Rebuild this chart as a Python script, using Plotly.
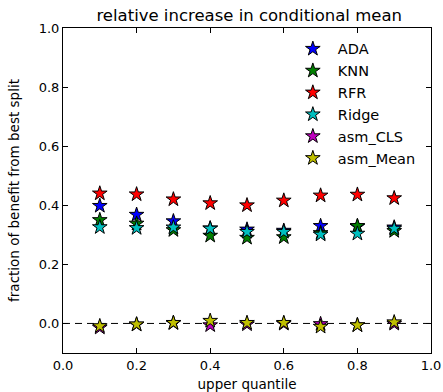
import plotly.graph_objects as go

x_vals = [0.1, 0.2, 0.3, 0.4, 0.5, 0.6, 0.7, 0.8, 0.9]
series_names = ["ADA", "KNN", "RFR", "Ridge", "asm_CLS", "asm_Mean"]
ada = [0.398, 0.368, 0.346, 0.322, 0.318, 0.314, 0.330, 0.328, 0.325]
knn = [0.350, 0.338, 0.316, 0.297, 0.290, 0.292, 0.306, 0.330, 0.313]
rfr = [0.440, 0.437, 0.420, 0.407, 0.400, 0.416, 0.433, 0.436, 0.424]
ridge = [0.326, 0.323, 0.325, 0.321, 0.310, 0.310, 0.301, 0.304, 0.321]
asm_cls = [-0.014, -0.004, 0.001, -0.006, -0.003, -0.001, -0.002, -0.006, -0.001]
asm_mean = [-0.009, -0.003, 0.002, 0.009, 0.002, 0.002, -0.011, -0.006, 0.004]
all_series = [ada, knn, rfr, ridge, asm_cls, asm_mean]
colors = ["#0000ff", "#008000", "#ff0000", "#00bfbf", "#bf00bf", "#bfbf00"]

title_text = "relative increase in conditional mean"
x_label = "upper quantile"
y_label = "fraction of benefit from best split"
tick_vals = [0.0, 0.2, 0.4, 0.6, 0.8, 1.0]

font_family = "DejaVu Sans"

fig = go.Figure()
fig.add_trace(go.Scatter(x=[0, 1], y=[0, 0], mode="lines",
                         line=dict(color="black", width=1, dash="7px,5px"),
                         showlegend=False, hoverinfo="skip"))
for name, ys, c in zip(series_names, all_series, colors):
    fig.add_trace(go.Scatter(
        x=x_vals, y=ys, mode="markers", name=name, legendgroup=name,
        marker=dict(symbol="star", size=11, color=c,
                    line=dict(color="black", width=1)),
    ))

axis_common = dict(
    showgrid=False, zeroline=False, showline=True, linecolor="black",
    linewidth=1, mirror="ticks", ticks="inside", ticklen=5, tickcolor="black",
    tickfont=dict(family=font_family, size=13, color="black"),
    automargin=False,
)

fig.update_layout(
    width=443, height=392,
    margin=dict(l=63, r=12, t=28, b=39, autoexpand=False),
    paper_bgcolor="white", plot_bgcolor="white",
    font=dict(family=font_family, color="black"),
    title=dict(text=title_text, x=0.5625, xanchor="center", y=0.962, yanchor="middle",
               font=dict(family=font_family, size=16.5, color="black")),
    xaxis=dict(range=[0, 1], tickvals=tick_vals, ticktext=[f"{v:.1f}" for v in tick_vals],
               title=dict(text=x_label, font=dict(family=font_family, size=13.5)),
               **axis_common),
    yaxis=dict(range=[-0.1, 1.0], tickvals=tick_vals, ticktext=[f"{v:.1f}" for v in tick_vals],
               title=dict(text=y_label, font=dict(family=font_family, size=13.5)),
               **axis_common),
    legend=dict(x=0.611, xanchor="left", y=0.985, yanchor="top",
                bgcolor="rgba(0,0,0,0)", borderwidth=0,
                font=dict(family=font_family, size=14.5, color="black"),
                tracegroupgap=0, itemwidth=40),
    showlegend=True,
)

fig.write_html("out.html")
